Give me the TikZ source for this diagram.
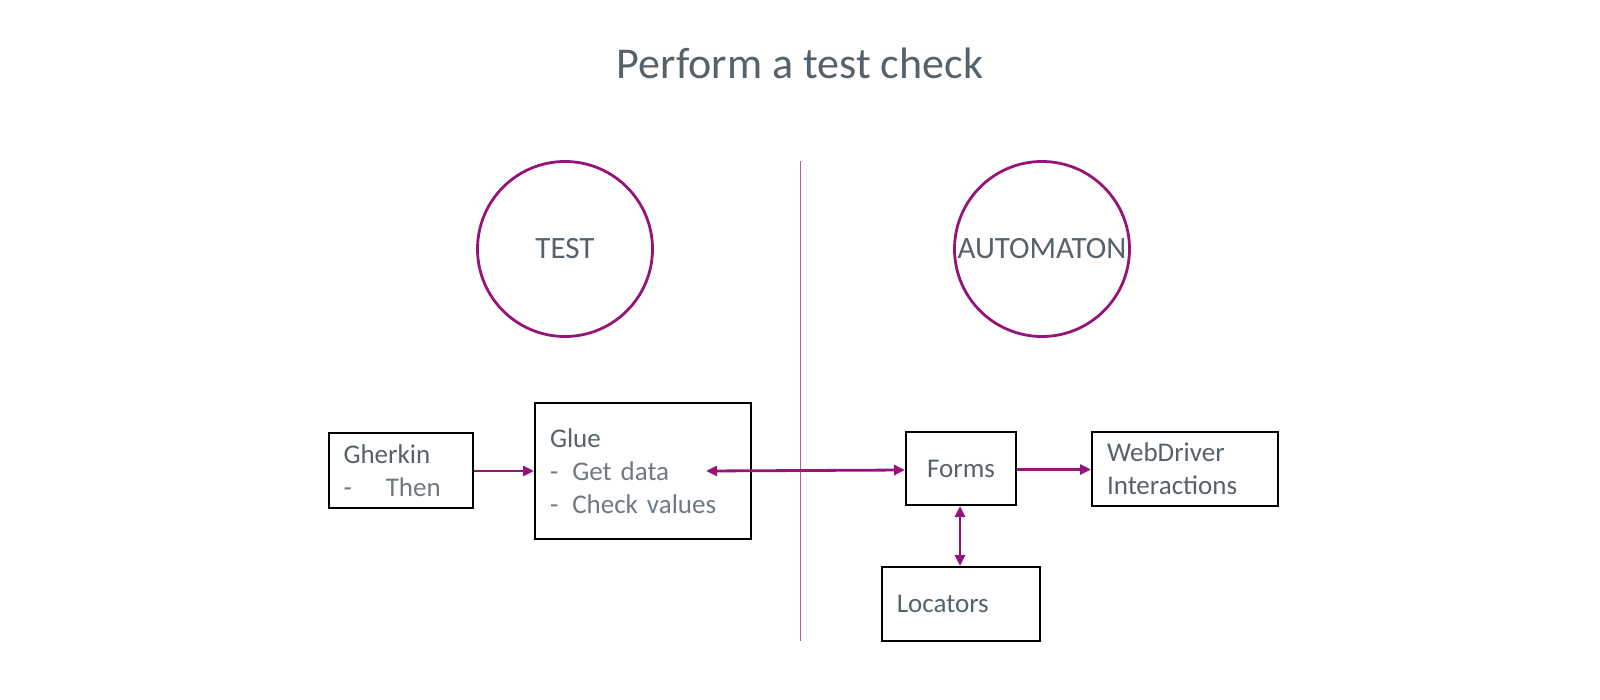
\documentclass[tikz,border=0pt]{standalone}
\usepackage{fontspec}
\setmainfont{Carlito}
\usetikzlibrary{arrows.meta}
\definecolor{txt}{RGB}{86,98,106}
\definecolor{txtl}{RGB}{110,122,128}
\definecolor{mag}{RGB}{150,20,120}
\tikzset{
  circ/.style={circle, draw=mag, line width=2.8pt, minimum size=175pt, inner sep=0pt, text=txt, font=\fontsize{31}{36}\selectfont},
  box/.style={rectangle, draw=black, line width=2pt, inner xsep=15pt, inner ysep=0pt, align=left, text=txt, font=\fontsize{27}{33}\selectfont},
  conn/.style={draw=mag, line width=2.8pt, -{Triangle[length=11pt,width=10pt]}},
  bconn/.style={draw=mag, line width=2.8pt, {Triangle[length=11pt,width=10pt]}-{Triangle[length=11pt,width=10pt]}},
}
\begin{document}
\begin{tikzpicture}[x=1pt,y=-1pt]
\useasboundingbox (0,0) rectangle (1600,700);
\node[text=txt, font=\fontsize{44}{48}\selectfont] (title) at (800,63) {Perform a test check};
\node[circ] (test) at (565,249) {TEST};
\node[circ] (auto) at (1042,249) {AUTOMATON};
\coordinate (divtop) at (800,161);
\coordinate (divbot) at (800,641);
\draw[mag!70, line width=0.6pt] (divtop) -- (divbot);
\node[box, text width=114pt, minimum height=75pt] (gherkin) at (400.5,470.5)
  {Gherkin\\{\color{txtl}-\hspace{34pt}Then}};
\node[box, text width=186pt, minimum height=136pt] (glue) at (643,471)
  {Glue\\{\color{txtl}-\hspace{14pt}Get data}\\{\color{txtl}-\hspace{14pt}Check values}};
\node[box, text width=80pt, minimum height=73pt, align=center] (forms) at (961,468.5) {Forms};
\node[box, text width=156pt, minimum height=74pt] (web) at (1185,469) {WebDriver\\Interactions};
\node[box, text width=128pt, minimum height=74pt] (loc) at (960.8,604) {Locators};
\coordinate (gluein) at (706,471);
\draw[conn] (gherkin.east |- 0,471) -- (glue.west |- 0,471);
\draw[bconn] (gluein) -- (forms.west |- 0,470);
\draw[conn] (forms.east |- 0,469.5) -- (web.west |- 0,469.5);
\draw[bconn] (forms.south -| 960,0) -- (loc.north -| 960,0);
\end{tikzpicture}
\end{document}
